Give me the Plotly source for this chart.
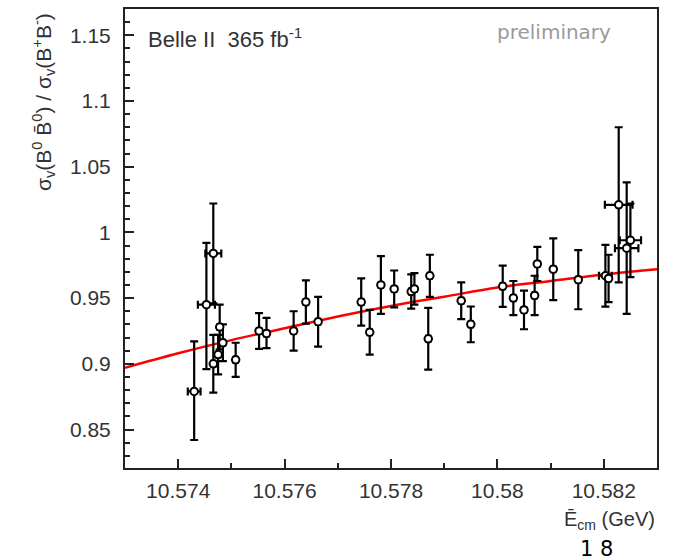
import plotly.graph_objects as go

# ---- data ----
energy = [10.57430, 10.57453, 10.57466, 10.57466, 10.57478, 10.57475, 10.57484, 10.57508,
          10.57552, 10.57566, 10.57617, 10.57640, 10.57663, 10.57744, 10.57760, 10.57781,
          10.57806, 10.57838, 10.57844, 10.57873, 10.57870, 10.57932, 10.57950, 10.58010,
          10.58030, 10.58050, 10.58070, 10.58075, 10.58105, 10.58152, 10.58203, 10.58209,
          10.58228, 10.58243, 10.58250]
ratio = [0.879, 0.945, 0.984, 0.900, 0.928, 0.907, 0.916, 0.903,
         0.925, 0.923, 0.925, 0.947, 0.932, 0.947, 0.924, 0.960,
         0.957, 0.955, 0.957, 0.967, 0.919, 0.948, 0.930, 0.959,
         0.950, 0.941, 0.952, 0.976, 0.972, 0.964, 0.967, 0.965,
         1.021, 0.988, 0.994]
err_up = [0.038, 0.047, 0.038, 0.022, 0.017, 0.015, 0.014, 0.013,
          0.0136, 0.012, 0.015, 0.0165, 0.019, 0.018, 0.017, 0.022,
          0.014, 0.013, 0.012, 0.016, 0.0235, 0.014, 0.0136, 0.0157,
          0.013, 0.0147, 0.015, 0.013, 0.0235, 0.0225, 0.0235, 0.018,
          0.059, 0.050, 0.028]
err_down = [0.037, 0.049, 0.038, 0.022, 0.017, 0.015, 0.014, 0.013,
            0.0136, 0.011, 0.015, 0.0165, 0.019, 0.018, 0.017, 0.022,
            0.014, 0.013, 0.012, 0.016, 0.0235, 0.014, 0.0136, 0.0157,
            0.013, 0.0147, 0.015, 0.013, 0.0235, 0.0225, 0.0235, 0.018,
            0.059, 0.050, 0.028]
err_x = [0.00012, 0.00016, 0.00015, 0.00004, 0.00004, 0.00004, 0.00004, 0.00004,
         0.00004, 0.00004, 0.00004, 0.00004, 0.00004, 0.00004, 0.00004, 0.00004,
         0.00004, 0.00004, 0.00004, 0.00004, 0.00004, 0.00004, 0.00004, 0.00004,
         0.00004, 0.00004, 0.00004, 0.00004, 0.00004, 0.00004, 0.00012, 0.00004,
         0.00026, 0.00022, 0.00020]

# fitted curve, read at several energies
fit_x = [10.573, 10.574, 10.575, 10.576, 10.577, 10.578, 10.579, 10.580, 10.581, 10.582, 10.583]
fit_y = [0.897, 0.908, 0.918, 0.927, 0.936, 0.944, 0.951, 0.958, 0.963, 0.968, 0.972]

x_ticks = [10.574, 10.576, 10.578, 10.580, 10.582]
x_labels = ["10.574", "10.576", "10.578", "10.58", "10.582"]
y_ticks = [0.85, 0.90, 0.95, 1.00, 1.05, 1.10, 1.15]
y_labels = ["0.85", "0.9", "0.95", "1", "1.05", "1.1", "1.15"]

# ---- layout geometry (pixels) ----
W, H = 674, 560
L, R, T, B = 125, 657, 7, 468


def px(xp):
    return (xp - L) / (R - L)


def py(yp):
    return (B - yp) / (B - T)


fig = go.Figure()
fig.add_trace(go.Scatter(
    x=fit_x, y=fit_y, mode="lines", line=dict(color="#ff0000", width=2.5, shape="spline"),
    showlegend=False, hoverinfo="skip"))
fig.add_trace(go.Scatter(
    x=energy, y=ratio, mode="markers",
    marker=dict(symbol="circle", size=7.5, color="white", line=dict(color="black", width=2)),
    error_y=dict(type="data", symmetric=False, array=err_up, arrayminus=err_down,
                 color="black", thickness=2.2, width=4),
    error_x=dict(type="data", array=err_x, color="black", thickness=2.2, width=4),
    showlegend=False))

tickfont = dict(family="Liberation Sans, Arial, sans-serif", size=21, color="#333333")
fig.update_xaxes(
    range=[10.573, 10.583], tickmode="array", tickvals=x_ticks, ticktext=x_labels,
    ticks="inside", ticklen=9, tickwidth=2, tickcolor="#222222",
    minor=dict(dtick=0.001, tick0=10.573, ticks="inside", ticklen=5, tickwidth=2, tickcolor="#222222"),
    showline=True, linecolor="#222222", linewidth=2, mirror=True,
    showgrid=False, zeroline=False, tickfont=tickfont, ticklabelstandoff=3)
fig.update_yaxes(
    range=[0.8207, 1.170], tickmode="array", tickvals=y_ticks, ticktext=y_labels,
    ticks="inside", ticklen=9, tickwidth=2, tickcolor="#222222",
    minor=dict(dtick=0.01, tick0=0.8, ticks="inside", ticklen=5, tickwidth=2, tickcolor="#222222"),
    showline=True, linecolor="#222222", linewidth=2, mirror=True,
    showgrid=False, zeroline=False, tickfont=tickfont, ticklabelstandoff=8)

annots = [
    dict(text="Belle II  365 fb<sup>-1</sup>", x=px(146), y=py(36), xanchor="left", yanchor="middle",
         font=dict(family="Liberation Sans, Arial, sans-serif", size=22, color="#333333")),
    dict(text="preliminary", x=px(613), y=py(30), xanchor="right", yanchor="middle",
         font=dict(family="DejaVu Sans, sans-serif", size=20, color="#9a9a9a")),
    dict(text="σ<sub>v</sub>(B<sup>0</sup> B\u0304<sup>0</sup>) / σ<sub>v</sub>(B<sup>+</sup>B<sup>-</sup>)",
         x=px(44), y=py(9), xanchor="center", yanchor="top", textangle=-90,
         font=dict(family="Liberation Sans, Arial, sans-serif", size=21, color="#333333")),
    dict(text="E\u0304<sub>cm</sub> (GeV)", x=px(657), y=py(521), xanchor="right", yanchor="middle",
         font=dict(family="Liberation Sans, Arial, sans-serif", size=20, color="#333333")),
    dict(text="1 8", x=px(596), y=py(549), xanchor="center", yanchor="middle",
         font=dict(family="DejaVu Sans, sans-serif", size=21, color="black")),
]
for a in annots:
    a.update(xref="paper", yref="paper", showarrow=False)
fig.update_layout(
    width=W, height=H, margin=dict(l=L, r=W - R, t=T, b=H - B),
    paper_bgcolor="white", plot_bgcolor="white", annotations=annots)

fig.write_html("out.html")
